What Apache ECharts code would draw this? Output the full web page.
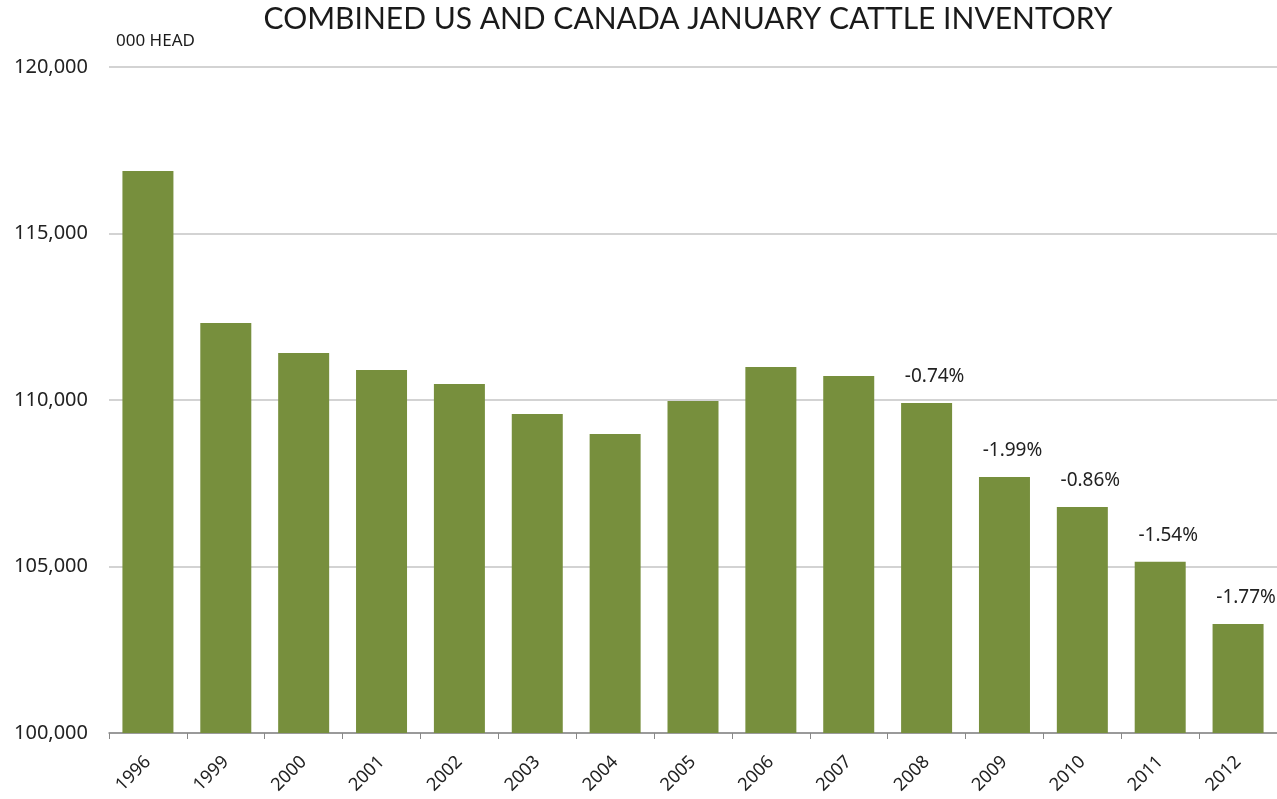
<!DOCTYPE html>
<html>
<head>
<meta charset="utf-8">
<style>
html,body{margin:0;padding:0;background:#fff;}
#chart{width:1277px;height:799px;}
</style>
<script src="https://cdn.jsdelivr.net/npm/echarts@6/dist/echarts.min.js"></script>
</head>
<body>
<div id="chart"></div>
<script>
var categories = ['1996','1999','2000','2001','2002','2003','2004','2005','2006','2007','2008','2009','2010','2011','2012'];
var inventory = [116880,112310,111410,110900,110480,109580,108980,109970,110990,110720,109910,107690,106790,105140,103270];
var pctLabels = ['','','','','','','','','','','-0.74%','-1.99%','-0.86%','-1.54%','-1.77%'];
var yTicks = {min:100000, max:120000, interval:5000};

var chart = echarts.init(document.getElementById('chart'));
chart.setOption({
  backgroundColor:'#fff',
  animation:false,
  graphic:[{
    type:'text', x:688, y:4,
    style:{text:'COMBINED US AND CANADA JANUARY CATTLE INVENTORY', textAlign:'center',
      fontFamily:'Lato', fontSize:30, fill:'#1a1a1a'}
  },{
    type:'text', x:116, y:33,
    style:{text:'000 HEAD', fontFamily:'Noto Sans', fontSize:17, fill:'#1a1a1a'}
  }],
  grid:{left:109, width:1174, top:67, bottom:66, containLabel:false},
  xAxis:{
    type:'category', data:categories,
    axisLine:{lineStyle:{color:'#888', width:1.5}},
    axisTick:{show:true, length:6, lineStyle:{color:'#888'}},
    axisLabel:{rotate:45, fontFamily:'Noto Sans', fontSize:18, color:'#222', margin:26}
  },
  yAxis:{
    type:'value', min:yTicks.min, max:yTicks.max, interval:yTicks.interval,
    axisLine:{show:false}, axisTick:{show:false},
    splitLine:{lineStyle:{color:'#c4c4c4', width:1.5}},
    axisLabel:{fontFamily:'Noto Sans', fontSize:20, color:'#222', margin:21,
      formatter:function(v){return v.toLocaleString('en-US');}}
  },
  series:[{
    type:'bar', data:inventory, barWidth:51,
    itemStyle:{color:'#778f3d'},
    label:{show:true, position:'top', distance:17, offset:[8,0],
      fontFamily:'Noto Sans', fontSize:19, color:'#222',
      formatter:function(p){return pctLabels[p.dataIndex];}}
  }]
});
</script>
</body>
</html>
